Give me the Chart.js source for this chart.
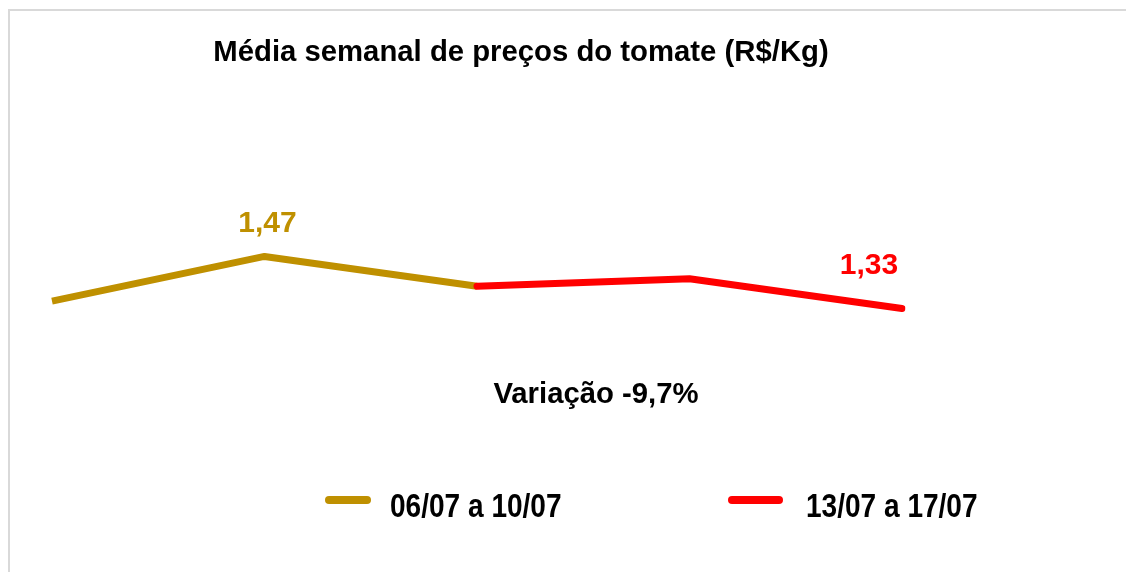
<!DOCTYPE html>
<html>
<head>
<meta charset="utf-8">
<script src="https://cdn.jsdelivr.net/npm/chart.js@4"></script>
<style>
  html, body { margin: 0; padding: 0; background: #fff; overflow: hidden; }
  #frame { position: absolute; left: 8px; top: 9px; width: 1300px; height: 800px; border: 2px solid #d9d9d9; }
  #wrap { position: absolute; left: 0; top: 0; width: 1126px; height: 572px; }
</style>
</head>
<body>
<div id="frame"></div>
<div id="wrap"><canvas id="graph" width="1126" height="572"></canvas></div>
<script>
const labels = ['1', '2', '3', '4', '5']
const semana1 = [1.35, 1.47, 1.39, null, null]
const semana2 = [null, null, 1.39, 1.41, 1.33]
const seriesNames = ['06/07 a 10/07', '13/07 a 17/07']
const title = 'Média semanal de preços do tomate (R$/Kg)'
const note = 'Variação -9,7%'

const gold = '#BF9000'
const red = '#FF0000'

const fmt = v => v.toFixed(2).replace('.', ',')

// titles, labels and legend drawn by hand
const overlay = {
    id: 'overlay',
    afterDatasetsDraw(chart) {
        const c = chart.ctx
        const x = chart.scales.x
        const y = chart.scales.y
        c.save()
        c.textBaseline = 'alphabetic'
        c.textAlign = 'center'
        c.fillStyle = '#000'
        c.font = 'bold 29.3px "Liberation Sans", Arial, sans-serif'
        c.fillText(title, 521, 61)
        c.fillText(note, 596, 403)

        // value labels: peak of week 1, last of week 2
        c.font = 'bold 30px "Liberation Sans", Arial, sans-serif'
        c.fillStyle = gold
        c.fillText(fmt(semana1[1]), x.getPixelForValue(1) + 3, y.getPixelForValue(semana1[1]) - 24)
        c.fillStyle = red
        c.fillText(fmt(semana2[4]), x.getPixelForValue(4) - 33, y.getPixelForValue(semana2[4]) - 35)

        // legend
        c.lineCap = 'round'
        c.lineWidth = 8
        c.strokeStyle = gold
        c.beginPath(); c.moveTo(329, 500); c.lineTo(367, 500); c.stroke()
        c.strokeStyle = red
        c.beginPath(); c.moveTo(732, 500); c.lineTo(779, 500); c.stroke()
        c.textAlign = 'left'
        c.fillStyle = '#000'
        c.font = 'bold 33px "Liberation Sans", Arial, sans-serif'
        // narrow look of the original legend font
        c.save(); c.translate(390, 517); c.scale(0.85, 1); c.fillText(seriesNames[0], 0, 0); c.restore()
        c.save(); c.translate(806, 517); c.scale(0.85, 1); c.fillText(seriesNames[1], 0, 0); c.restore()
        c.restore()
    }
}

const data = {
    labels,
    datasets: [{
        label: seriesNames[0],
        data: semana1,
        borderColor: gold,
        borderWidth: 7,
        borderCapStyle: 'butt',
        borderJoinStyle: 'round',
        pointRadius: 0,
        order: 1
    }, {
        label: seriesNames[1],
        data: semana2,
        borderColor: red,
        borderWidth: 7,
        borderCapStyle: 'round',
        borderJoinStyle: 'round',
        pointRadius: 0,
        order: 0
    }]
}

const config = {
    type: 'line',
    data: data,
    options: {
        responsive: false,
        animation: false,
        spanGaps: false,
        layout: {
            padding: { left: 52, right: 224, top: 208, bottom: 215 }
        },
        plugins: {
            legend: { display: false },
            title: { display: false },
            tooltip: { enabled: false }
        },
        scales: {
            x: { display: false, offset: false },
            y: { display: false, min: 1.2, max: 1.6 }
        }
    },
    plugins: [overlay]
}

const graph = new Chart(document.getElementById('graph').getContext('2d'), config)
</script>
</body>
</html>
